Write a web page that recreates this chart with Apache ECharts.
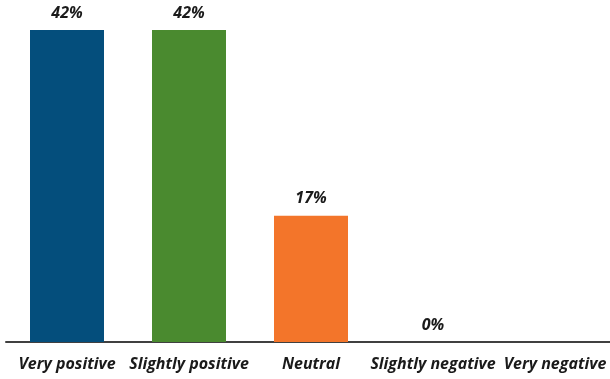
<!DOCTYPE html>
<html>
<head>
<meta charset="utf-8">
<script src="https://cdn.jsdelivr.net/npm/echarts@6/dist/echarts.min.js"></script>
<style>
  html, body { margin: 0; padding: 0; background: #fff; }
  #chart { width: 610px; height: 379px; }
</style>
</head>
<body>
<div id="chart"></div>
<script>
// Sentiment categories and their shares (percent)
const categories = ['Very positive', 'Slightly positive', 'Neutral', 'Slightly negative', 'Very negative'];
const shares = [42, 42, 17, 0, 0];
const barColors = ['#044e7c', '#4a8a2f', '#f3752a', '#9e9e9e', '#9e9e9e'];
const showLabel = [true, true, true, true, false];

const chart = echarts.init(document.getElementById('chart'));
const font = '"Open Sans", sans-serif';

chart.setOption({
  animation: false,
  grid: { left: 6, width: 610, top: 30, height: 312, containLabel: false, outerBoundsMode: 'none' },
  xAxis: {
    type: 'category',
    data: categories,
    axisLine: { lineStyle: { color: '#404040', width: 2 } },
    axisTick: { show: false },
    axisLabel: {
      interval: 0,
      margin: 14,
      color: '#1a1a1a',
      fontFamily: font,
      fontWeight: 'bold',
      fontStyle: 'italic',
      fontSize: 16
    }
  },
  yAxis: {
    type: 'value',
    min: 0,
    max: 42,
    show: false,
    splitLine: { show: false }
  },
  series: [{
    type: 'bar',
    barWidth: 74,
    data: shares.map((v, i) => ({
      value: v,
      itemStyle: { color: barColors[i] },
      label: { show: showLabel[i] }
    })),
    label: {
      position: 'top',
      distance: 9,
      formatter: p => p.value + '%',
      color: '#1a1a1a',
      fontFamily: font,
      fontWeight: 'bold',
      fontStyle: 'italic',
      fontSize: 16
    }
  }]
});
</script>
</body>
</html>
